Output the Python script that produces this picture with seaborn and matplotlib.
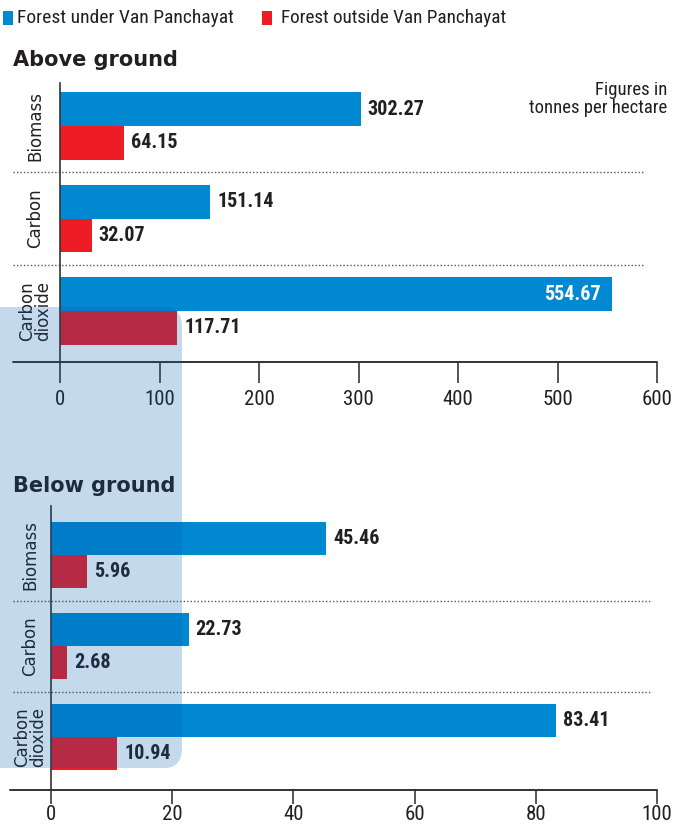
import matplotlib
matplotlib.use("Agg")
import matplotlib.pyplot as plt
import seaborn as sns
import pandas as pd
from matplotlib import font_manager
from matplotlib.font_manager import FontProperties
from matplotlib.patches import FancyBboxPatch, Rectangle
from matplotlib.lines import Line2D

# ---------------- data ----------------
categories = ["Biomass", "Carbon", "Carbon\ndioxide"]
series_names = ["Forest under Van Panchayat", "Forest outside Van Panchayat"]
above_under = [302.27, 151.14, 554.67]
above_outside = [64.15, 32.07, 117.71]
below_under = [45.46, 22.73, 83.41]
below_outside = [5.96, 2.68, 10.94]
above_ticks = [0, 100, 200, 300, 400, 500, 600]
below_ticks = [0, 20, 40, 60, 80, 100]

BLUE = "#0088D1"
RED = "#ED1C24"
DARK = "#231F20"

sns.set_theme(style="white")
plt.rcParams["font.family"] = ["DejaVu Sans"]


def find_condensed():
    reg, bold = None, None
    cands = []
    for f in font_manager.fontManager.ttflist:
        fn = f.fname.lower()
        nm = f.name.lower()
        if ("condensed" in fn or "narrow" in fn or "condensed" in nm or "narrow" in nm
                or str(f.stretch) in ("condensed", "semi-condensed", "extra-condensed")):
            if "mono" in nm or "serif" in nm and "sans" not in nm:
                continue
            if "italic" in fn or "oblique" in fn or str(f.style) != "normal":
                continue
            cands.append(f)
    order = ["liberation sans narrow", "roboto condensed", "open sans condensed",
             "dejavu sans", "noto sans", "lato", "inter"]

    def rank(f):
        nm = f.name.lower()
        for i, o in enumerate(order):
            if nm.startswith(o):
                return i
        return len(order)
    cands.sort(key=rank)
    for f in cands:
        w = f.weight if isinstance(f.weight, int) else (700 if "bold" in str(f.weight) else 400)
        if w >= 600 and bold is None:
            bold = f.fname
        if w < 600 and reg is None:
            reg = f.fname
    return reg, bold


reg_path, bold_path = find_condensed()


def fp(size, bold=False):
    path = bold_path if bold else reg_path
    if path is not None:
        return FontProperties(fname=path, size=size)
    return FontProperties(family="Roboto", size=size * 0.95,
                          weight="bold" if bold else "normal")


W, H = 686, 825
fig = plt.figure(figsize=(W / 100, H / 100), dpi=100)


def fx(x):
    return x / W


def fy(y):
    return 1 - y / H


def make_df(under, outside):
    rows = []
    for c, u, o in zip(categories, under, outside):
        rows.append({"category": c, "forest": series_names[0], "value": u})
        rows.append({"category": c, "forest": series_names[1], "value": o})
    return pd.DataFrame(rows)


def panel(left, right, top, bottom, xmax, ticks, under, outside, ylim,
          label_x, axis_left, sep_left, sep_right, tick_len, tick_pad, inside_idx=None):
    ax = fig.add_axes([fx(left), fy(bottom), fx(right) - fx(left), fy(top) - fy(bottom)])
    df = make_df(under, outside)
    sns.barplot(data=df, y="category", x="value", hue="forest", orient="h",
                palette=[BLUE, RED], width=0.73, gap=0, legend=False, ax=ax,
                edgecolor="none", linewidth=0, saturation=1)
    ax.set_xlim(0, xmax)
    ax.set_ylim(*ylim)
    ax.set_xlabel("")
    ax.set_ylabel("")
    ax.set_yticks([])
    ax.set_xticks(ticks)
    ax.set_xticklabels([str(t) for t in ticks], fontproperties=fp(15), color=DARK)
    ax.tick_params(axis="x", direction="out", length=tick_len, width=1.4, color="#555555",
                   pad=tick_pad, bottom=True)
    for s in ["top", "right", "bottom"]:
        ax.spines[s].set_visible(False)
    ax.spines["left"].set_color("#333333")
    ax.spines["left"].set_linewidth(1.2)
    fig.add_artist(Line2D([fx(axis_left), fx(right)], [fy(bottom), fy(bottom)],
                          color="#333333", lw=1.4))
    for yv in [0.5, 1.5]:
        ax.plot([(sep_left - left) / (right - left), (sep_right - left) / (right - left)],
                [yv, yv], transform=ax.get_yaxis_transform(), clip_on=False,
                color="#555555", lw=1.0, ls=(0, (1, 1.5)))
    for i, c in enumerate(categories):
        ax.text((label_x - left) / (right - left), i, c, transform=ax.get_yaxis_transform(),
                rotation=90, ha="center", va="center", fontsize=12, color=DARK,
                linespacing=0.85, clip_on=False)
    bw = 0.365
    for i in range(3):
        for j, vals in enumerate([under, outside]):
            v = vals[i]
            yc = i - bw / 2 + j * bw
            if inside_idx is not None and (i, j) == inside_idx:
                ax.annotate(f"{v:.2f}", (v, yc), xytext=(-8, 0), textcoords="offset points",
                            ha="right", va="center", fontproperties=fp(14.5, True),
                            color="white")
            else:
                ax.annotate(f"{v:.2f}", (v, yc), xytext=(5, 0), textcoords="offset points",
                            ha="left", va="center", fontproperties=fp(14.5, True),
                            color=DARK)
    return ax


ax1 = panel(left=60, right=657, top=83, bottom=362, xmax=600, ticks=above_ticks,
            under=above_under, outside=above_outside, ylim=(2.55, -0.465),
            label_x=35, axis_left=13, sep_left=13, sep_right=645,
            tick_len=15, tick_pad=5, inside_idx=(2, 0))
ax2 = panel(left=51, right=657, top=506, bottom=790, xmax=100, ticks=below_ticks,
            under=below_under, outside=below_outside, ylim=(2.58, -0.54),
            label_x=30, axis_left=10, sep_left=13, sep_right=652,
            tick_len=10, tick_pad=1)

fig.text(fx(13), fy(60), "Above ground", fontsize=15, fontweight="bold", color=DARK,
         ha="left", va="center")
fig.text(fx(13), fy(486), "Below ground", fontsize=15, fontweight="bold", color=DARK,
         ha="left", va="center")
fig.text(fx(667), fy(99), "Figures in\ntonnes per hectare", fontproperties=fp(13.5),
         color=DARK, ha="right", va="center", linespacing=1.0, multialignment="right")

fig.add_artist(Rectangle((fx(3), fy(25)), fx(10), fy(11) - fy(25), color=BLUE, lw=0))
fig.text(fx(17), fy(18), series_names[0], fontproperties=fp(14), color=DARK,
         ha="left", va="center")
fig.add_artist(Rectangle((fx(262), fy(25)), fx(10), fy(11) - fy(25), color=RED, lw=0))
fig.text(fx(281), fy(18), series_names[1], fontproperties=fp(13.8), color=DARK,
         ha="left", va="center")

wm = FancyBboxPatch((fx(-20), fy(768)), fx(202), fy(307) - fy(768),
                    boxstyle="round,pad=0,rounding_size=0.025", transform=fig.transFigure,
                    facecolor=(4 / 255, 91 / 255, 174 / 255), alpha=0.23, lw=0, zorder=10)
fig.add_artist(wm)

fig.savefig("out.png", dpi=100, facecolor="white")
